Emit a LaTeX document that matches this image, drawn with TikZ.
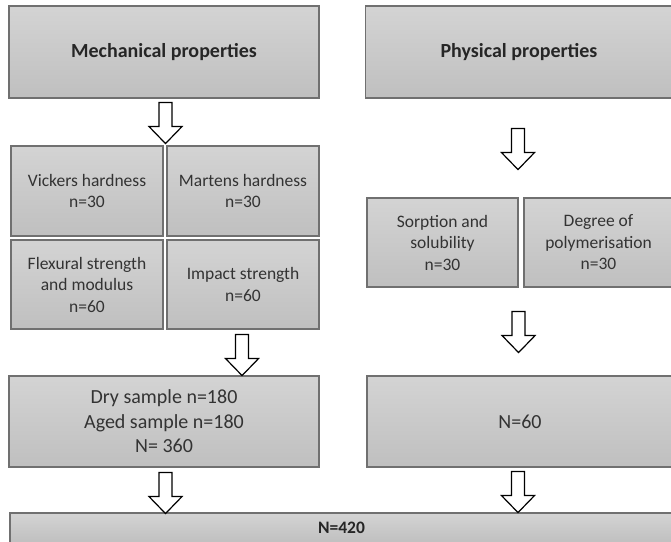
\documentclass[tikz,border=0pt]{standalone}
\usepackage{fontspec}
\setmainfont{Carlito}
\usepackage{tikz}
\usetikzlibrary{calc,positioning}
\definecolor{boxline}{HTML}{707070}
\definecolor{boxtext}{HTML}{333333}
\tikzstyle{flow}=[
  x=1pt,y=-1pt,font=\fontsize{17.5}{21.5}\selectfont
]
\tikzstyle{box}=[
  draw=boxline,line width=1.1pt,rectangle,inner sep=0pt,align=center,
  top color=black!17,bottom color=black!25,text=boxtext
]
\tikzstyle{headbox}=[
  box,font=\fontsize{20}{24}\selectfont\bfseries,text=black!85
]
\tikzstyle{countbox}=[
  box,font=\fontsize{20}{24.5}\selectfont
]
\tikzstyle{sumbox}=[
  box,font=\fontsize{17.5}{21.5}\selectfont\bfseries,text=black!85
]
\tikzstyle{arrowline}=[
  draw=black,line width=1.2pt,fill=white,line join=miter
]
\tikzset{
  blockarrow/.pic={
    \path[arrowline] (-6.5,0) -- (6.5,0) -- (6.5,24) -- (16.5,24)
      -- (0,41) -- (-16.5,24) -- (-6.5,24) -- cycle;
  }
}

\begin{document}
\begin{tikzpicture}[flow]
        \useasboundingbox[fill=white] (0,0) rectangle (671,541);
        % top row
        \node (mech) at (164, 52) [headbox, minimum width=310pt, minimum height=92pt] {Mechanical properties};
        \node (phys) at (519, 52) [headbox, minimum width=307pt, minimum height=92pt] {Physical properties};
        % tests
        \node (vick) at (87, 191) [box, minimum width=152pt, minimum height=90pt] {Vickers hardness\\n=30};
        \node (mart) at (243, 191) [box, minimum width=152pt, minimum height=90pt] {Martens hardness\\n=30};
        \node (flex) at (87, 284.5) [box, minimum width=152pt, minimum height=89pt] {Flexural strength\\and modulus\\n=60};
        \node (imp) at (243, 284.5) [box, minimum width=152pt, minimum height=89pt] {Impact strength\\n=60};
        \node (sorp) at (442.5, 242.5) [box, minimum width=151pt, minimum height=89pt] {Sorption and\\solubility\\n=30};
        \node (poly) at (598.5, 242.5) [box, minimum width=149pt, minimum height=89pt] {Degree of\\polymerisation\\n=30};
        % sums
        \node (dry) at (164, 421.5) [countbox, minimum width=310pt, minimum height=91pt] {Dry sample n=180\\Aged sample n=180\\N= 360};
        \node (sixty) at (520, 421.5) [countbox, minimum width=306pt, minimum height=91pt] {N=60};
        \node (total) at (341.5, 528) [sumbox, minimum width=663pt, minimum height=30pt] {N=420};

        % block arrows
        \pic at ($(mech.south) + (1.5, 4)$) {blockarrow};
        \pic at ($(flex.south east) + (78.5, 5)$) {blockarrow};
        \pic at ($(dry.south) + (1.5, 5)$) {blockarrow};
        \pic at ($(phys.south) + (-1, 30)$) {blockarrow};
        \pic at ($(sorp.south east) + (0, 24)$) {blockarrow};
        \pic at ($(sixty.south) + (-2, 4)$) {blockarrow};
        \end{tikzpicture}
\end{document}
